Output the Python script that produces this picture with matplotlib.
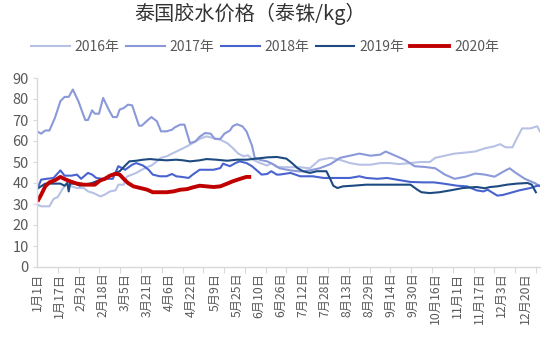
import matplotlib
matplotlib.use("Agg")
import matplotlib.pyplot as plt
import numpy as np

plt.rcParams['font.family'] = ['Noto Sans CJK SC', 'DejaVu Sans']

# x tick labels (dates) and their day-of-year in a leap-year calendar
tick_labels = ["1月1日", "1月17日", "2月2日", "2月18日", "3月5日", "3月21日", "4月6日",
               "4月22日", "5月9日", "5月25日", "6月10日", "6月26日", "7月12日", "7月28日",
               "8月13日", "8月29日", "9月14日", "9月30日", "10月16日", "11月1日",
               "11月17日", "12月3日", "12月20日"]
tick_days = [0, 16, 32, 48, 64, 80, 96, 112, 129, 145, 161, 177, 193, 209,
             225, 241, 257, 273, 289, 305, 321, 337, 354]

# series: day-of-year and price (THB/kg)
d2016 = [0, 3, 9, 12, 15, 19, 22, 25, 29, 34, 37, 41, 46, 49, 53, 57, 59, 63, 65, 69, 72, 76, 80,
         83, 87, 90, 94, 99, 104, 109, 113, 118, 123, 128, 133, 138, 142, 146, 150, 153, 157,
         162, 167, 170, 174, 184, 191, 198, 205, 213, 220, 227, 234, 242, 249, 256, 263, 271,
         278, 285, 289, 296, 303, 311, 318, 325, 332, 336, 340, 345, 348, 352, 358, 363, 365]
v2016 = [29.7, 28.9, 28.9, 32.4, 33.3, 37.6, 40, 38.4, 37.6, 37.6, 36, 35.2, 33.6, 34.4, 36, 36.5,
         39.2, 39.2, 43, 44, 44.8, 46.3, 47.6, 48.3, 50.3, 52, 52.7, 54.3, 55.9, 57.5, 59, 61,
         62.2, 61.4, 60.6, 59, 56.7, 54, 52.7, 53.2, 51, 49.5, 48.3, 49.5, 47.6, 47.5, 47.5, 47,
         51, 52, 51, 49.5, 48.7, 48.7, 49.5, 49.5, 49, 49.5, 50, 50, 52, 53, 54, 54.5, 55, 56.5,
         57.5, 58.5, 57, 57, 61, 66, 66, 67, 64.5]

d2017 = [0, 3, 6, 9, 13, 17, 20, 23, 26, 30, 35, 37, 40, 42, 45, 48, 52, 55, 58, 60, 63, 66, 69,
         74, 76, 80, 83, 87, 90, 94, 98, 100, 104, 107, 111, 115, 118, 122, 126, 129, 133, 136,
         140, 142, 145, 149, 152, 156, 158, 162, 167, 172, 176, 184, 191, 198, 205, 213, 220,
         227, 234, 242, 249, 253, 260, 267, 274, 282, 289, 296, 303, 311, 318, 325, 332, 340,
         343, 347, 354, 361, 365]
v2017 = [64.6, 63.5, 65, 65, 71, 79, 81, 81, 84.5, 79, 70, 70, 74.6, 73, 73, 80.5, 75, 71.4, 71.4,
         75, 75.7, 77.3, 77, 67.3, 67.3, 69.7, 71.4, 69.4, 64.6, 64.6, 65.4, 66.5, 67.8, 67.8, 59,
         59.8, 62, 63.8, 63.5, 61, 61, 63.5, 65, 67, 68, 67, 64.6, 57.8, 52, 51, 50.3, 48.7, 47,
         46, 45.5, 46, 47, 49, 52, 53, 54, 53, 53.5, 55, 53, 51, 48, 47.6, 47, 44, 42, 43, 44.5,
         44, 43, 46, 47, 45, 42, 40, 38.5]

d2018 = [1, 3, 7, 12, 17, 20, 25, 29, 32, 37, 40, 43, 47, 55, 59, 64, 69, 72, 77, 81, 84, 89, 94,
         98, 101, 105, 110, 113, 118, 128, 133, 135, 140, 144, 147, 152, 156, 159, 163, 167,
         170, 174, 176, 184, 191, 200, 208, 218, 227, 234, 239, 247, 254, 261, 271, 280, 288,
         295, 305, 312, 319, 324, 327, 334, 338, 343, 350, 358, 363, 365]
v2018 = [38.4, 41.6, 42, 42.4, 46, 43.5, 43.5, 44, 42, 44.8, 44, 42.4, 42, 42, 48, 46.3, 48.7,
         49.5, 48.3, 46.3, 44, 43.2, 43.2, 44.3, 43.2, 42.9, 42.4, 44, 46.3, 46.3, 47.1, 49.2, 48,
         49.5, 50.3, 49.5, 48, 46.3, 44, 44.3, 45.6, 44, 44, 44.8, 43.2, 43.2, 42.4, 42.4, 42.4,
         43.2, 42.4, 42, 42.4, 41.6, 40.5, 40.3, 40.3, 39.7, 38.7, 38.4, 36.5, 36, 36.8, 34, 34.3,
         35.2, 36.5, 37.6, 38.7, 38.7]

d2019 = [1, 6, 12, 17, 20, 22, 23, 24, 28, 31, 35, 40, 43, 47, 52, 57, 60, 64, 67, 72, 77, 82,
         87, 94, 101, 106, 111, 118, 123, 130, 138, 145, 152, 159, 167, 174, 181, 185, 189, 193,
         198, 203, 210, 213, 215, 218, 222, 229, 239, 251, 261, 271, 276, 279, 285, 292, 300,
         309, 319, 325, 329, 334, 341, 348, 356, 359, 362]
v2019 = [37.6, 39.7, 39.7, 39.7, 38.7, 40, 36, 39.7, 39.7, 38.7, 39.2, 40, 40.8, 41.6, 43.2, 44.8,
         45.6, 48.3, 50.3, 50.6, 51.1, 51.4, 51.1, 50.8, 51.1, 50.8, 50.3, 50.8, 51.4, 51.1, 50.6,
         51.1, 51.1, 51.6, 52.2, 52.4, 51.6, 49.5, 47.1, 45.6, 44.8, 45.6, 45.6, 41.6, 38.7, 37.6,
         38.4, 38.7, 39.2, 39.2, 39.2, 39.2, 36.8, 35.6, 35.2, 35.6, 36.5, 37.6, 38.1, 37.5, 38.1,
         38.4, 39.2, 39.7, 40, 39.2, 35.6]

d2020 = [1, 3, 6, 9, 13, 17, 20, 24, 29, 34, 38, 42, 46, 49, 53, 57, 60, 63, 66, 70, 75, 80, 84,
         89, 94, 99, 104, 109, 113, 118, 123, 128, 133, 138, 142, 147, 152, 154]
v2020 = [32, 34.4, 38.4, 40.3, 41.3, 42.9, 41.9, 40.8, 39.7, 39.2, 39.2, 39.2, 41.3, 41.9, 43.5,
         44.4, 44, 41.9, 40, 38.4, 37.6, 36.8, 35.6, 35.6, 35.6, 36, 36.8, 37.1, 37.9, 38.7, 38.4,
         38.1, 38.4, 39.7, 40.8, 41.9, 42.9, 42.9]

series = [
    ("2016年", d2016, v2016, "#b7c1e6", 1.5),
    ("2017年", d2017, v2017, "#8b99d9", 1.5),
    ("2018年", d2018, v2018, "#4863cf", 1.5),
    ("2019年", d2019, v2019, "#1d4a80", 1.5),
    ("2020年", d2020, v2020, "#c00000", 2.8),
]

fig = plt.figure(figsize=(5.5, 3.38), dpi=100)
ax = fig.add_axes([37/550, 1-267/338, (540-37)/550, (267-78)/338])

for name, d, v, c, lw in series:
    ax.plot(d, v, color=c, lw=lw, label=name, solid_joinstyle='round')

ax.set_xlim(0, 365)
ax.set_ylim(0, 90)
ax.set_yticks(range(0, 91, 10))
ax.set_xticks(tick_days)
ax.set_xticklabels(tick_labels, rotation=90, fontsize=8.8, color='#595959')
ax.set_xticks(np.linspace(0, 362, 25), minor=True)
ax.tick_params(axis='x', which='major', length=0, pad=4)
ax.tick_params(axis='x', which='minor', length=4, color='#d9d9d9', width=0.8)
ax.tick_params(axis='y', length=3, color='#d9d9d9', width=0.8, labelsize=10.5,
               labelcolor='#595959', pad=3)
for s in ['top', 'right']:
    ax.spines[s].set_visible(False)
for s in ['left', 'bottom']:
    ax.spines[s].set_color('#d9d9d9')
    ax.spines[s].set_linewidth(1.0)

fig.text(250/550, 1-14/338, "泰国胶水价格（泰铢/kg）", ha='center', va='center',
         fontsize=14.5, color='#333333')
fig.legend(loc='center', bbox_to_anchor=(265/550, 1-47/338), ncol=5, frameon=False,
           fontsize=10, handlelength=2.8, columnspacing=0.45, handletextpad=0.35,
           labelcolor='#595959')

fig.savefig("out.png", dpi=100)
